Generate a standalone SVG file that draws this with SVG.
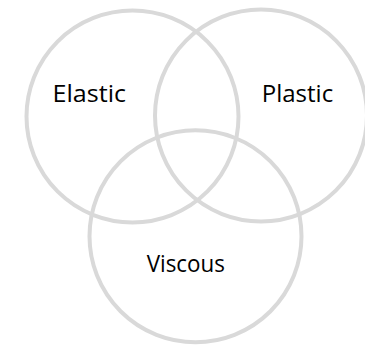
<svg xmlns="http://www.w3.org/2000/svg" width="365" height="346" viewBox="0 0 365 346">
<style>
.c{fill:none;stroke:#d9d9d9;stroke-width:4}
.t{font-family:"Open Sans","Liberation Sans",sans-serif;font-size:23px;fill:#000}
</style>
<rect width="365" height="346" fill="#fff"/>
<g id="elastic"><circle class="c" cx="132.5" cy="116.5" r="106"/></g>
<g id="plastic"><circle class="c" cx="261" cy="115.5" r="106"/></g>
<g id="viscous"><circle class="c" cx="195.5" cy="236.3" r="106"/></g>
<g id="labels">
<text class="t" x="52.5" y="101.7" textLength="73.5" lengthAdjust="spacingAndGlyphs">Elastic</text>
<text class="t" x="261.7" y="101.7" textLength="71.5" lengthAdjust="spacingAndGlyphs">Plastic</text>
<text class="t" x="146.7" y="271.7" textLength="78.3" lengthAdjust="spacingAndGlyphs">Viscous</text>
</g>
</svg>
